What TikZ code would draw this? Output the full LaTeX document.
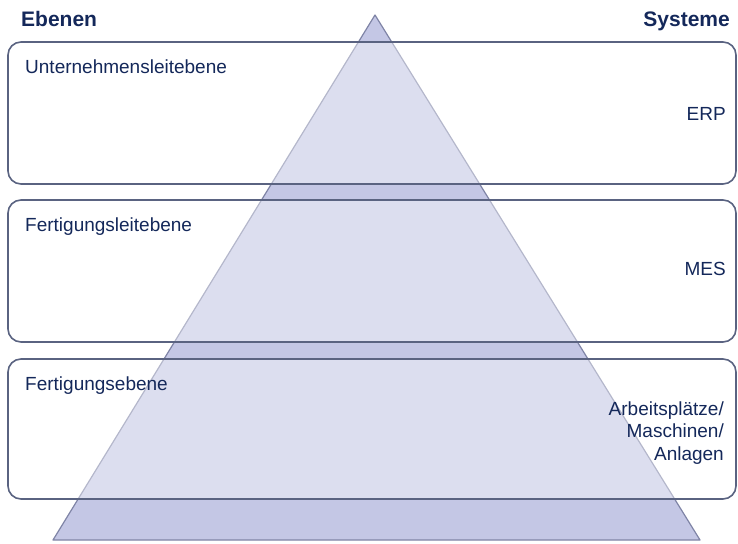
\documentclass[tikz,border=0pt]{standalone}
\usepackage{fontspec}
\setmainfont{Liberation Sans}
\definecolor{ebenenblau}{HTML}{14285A}
\definecolor{pyramide}{HTML}{C4C7E5}
\definecolor{pyramidenrand}{HTML}{7F84A6}
\definecolor{rahmen}{HTML}{5A6381}

\begin{document}
\begin{tikzpicture}[x=1pt,y=-1pt,
  ebene/.style={draw=rahmen,line width=1.6pt,rounded corners=13pt,fill=white,fill opacity=0.42,
    minimum width=728pt,inner sep=0pt},
  beschriftung/.style={text=ebenenblau,font=\fontsize{19}{22.5}\selectfont,inner sep=0pt},
  kopf/.style={text=ebenenblau,font=\fontsize{21}{24}\selectfont\bfseries,inner sep=0pt}]
	\useasboundingbox (0,0) rectangle (738,543);
	% pyramide
	\coordinate (spitze) at (375,15);
	\coordinate (links) at (53,540);
	\coordinate (rechts) at (700,540);
	\draw[draw=pyramidenrand,fill=pyramide,line width=1.2pt,line join=round] (spitze) -- (links) -- (rechts) -- cycle;
	% ebenen
	\node[ebene,minimum height=142pt] (ule) at (372,113) {};
	\node[ebene,minimum height=142pt] (fle) at (372,271) {};
	\node[ebene,minimum height=140pt] (fe) at (372,429) {};
	% kopfzeile
	\node[kopf,anchor=base west] (ebenen) at (21,27) {Ebenen};
	\node[kopf,anchor=base east] (systeme) at (730,27) {Systeme};
	% beschriftungen
	\node[beschriftung,anchor=base west] (ulename) at (25,73) {Unternehmensleitebene};
	\node[beschriftung,anchor=base west] (flename) at (25,231) {Fertigungsleitebene};
	\node[beschriftung,anchor=base west] (fename) at (25,390) {Fertigungsebene};
	\node[beschriftung,anchor=base east] (erp) at (726,120) {ERP};
	\node[beschriftung,anchor=base east] (mes) at (726,275) {MES};
	\node[beschriftung,anchor=base east,align=right] (anlagen) at (724,460)
		{Arbeitsplätze/\\Maschinen/\\Anlagen};
\end{tikzpicture}
\end{document}
